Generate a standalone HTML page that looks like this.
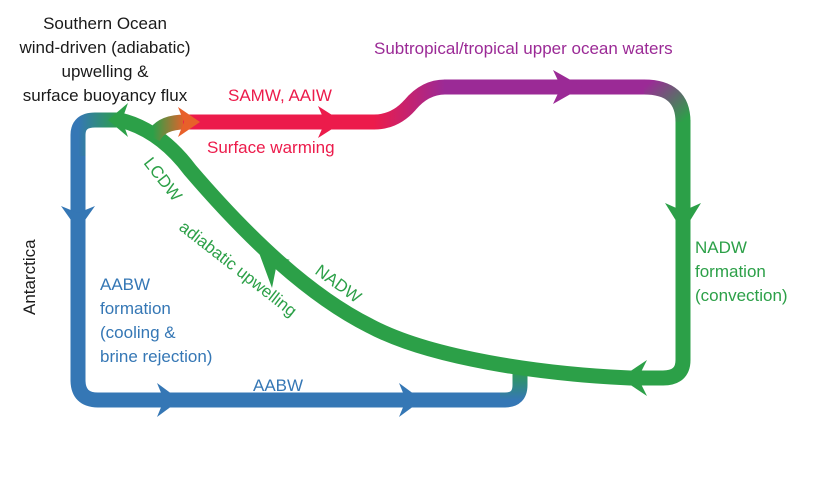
<!DOCTYPE html>
<html><head><meta charset="utf-8"><style>
html,body{margin:0;padding:0;background:#fff;}
svg{display:block;font-family:"Liberation Sans",Arial,sans-serif;}
</style></head><body>
<svg width="825" height="484" viewBox="0 0 825 484" xmlns="http://www.w3.org/2000/svg">
<defs>
<linearGradient id="gb" x1="0" y1="0" x2="1" y2="0"><stop offset="0" stop-color="#3577b5"/><stop offset="1" stop-color="#2ca048"/></linearGradient>
<linearGradient id="gr" x1="0" y1="0" x2="1" y2="0"><stop offset="0" stop-color="#2ca048"/><stop offset="1" stop-color="#e8602a"/></linearGradient>
<linearGradient id="rp" x1="0" y1="0" x2="1" y2="0"><stop offset="0" stop-color="#ec1b4b"/><stop offset="1" stop-color="#9b2a96"/></linearGradient>
<linearGradient id="pg" x1="0" y1="0" x2="1" y2="1"><stop offset="0" stop-color="#9b2a96"/><stop offset="1" stop-color="#2ca048"/></linearGradient>
<linearGradient id="bg2" x1="0" y1="1" x2="0" y2="0"><stop offset="0" stop-color="#3577b5"/><stop offset="1" stop-color="#2ca048"/></linearGradient>
</defs>
<g fill="none" stroke-width="15">
<path d="M78 155 V380 Q78 400 98 400 H505" stroke="#3577b5"/>
<path d="M500 400 H505 Q520 400 520 385 V368" stroke="url(#bg2)"/>
<path d="M78 156 V135 Q78 120 95 120 H120" stroke="url(#gb)"/>
<path d="M683 120 V360 Q683 378 663 378 H630 C540 374 430 358 370 326 C310 296 250 240 190 170 Q160 130 120 120" stroke="#2ca048"/>
<path d="M153 138 Q160 122 185 122" stroke="url(#gr)"/>
<path d="M183 122 H375" stroke="#ec1b4b"/>
<path d="M374 122 Q395 122 410 105 Q425 87 445 87" stroke="url(#rp)"/>
<path d="M444 87 H645" stroke="#9b2a96"/>
<path d="M644 87 Q683 87 683 122" stroke="url(#pg)"/>
</g>
<polygon points="180,400 157,383 164,400 157,417" fill="#3577b5"/>
<polygon points="422,400 399,383 406,400 399,417" fill="#3577b5"/>
<polygon points="78,230 61,206 78,213 95,206" fill="#3577b5"/>
<polygon points="683,232 665,203 683,211 701,203" fill="#2ca048"/>
<polygon points="620,378 647,360 638,378 647,396" fill="#2ca048"/>
<polygon points="258,250 290,260 277,263 272,288" fill="#2ca048"/>
<polygon points="108,120 128,103 122,120 128,137" fill="#2ca048"/>
<polygon points="200,122 178,107 184,122 178,137" fill="#e8602a"/>
<polygon points="343,122 318,106 325,122 318,138" fill="#ec1b4b"/>
<polygon points="583,87 553,70 561,87 553,104" fill="#9b2a96"/>
<g font-size="17" fill="#1a1a1a" text-anchor="middle">
<text x="105" y="29">Southern Ocean</text>
<text x="105" y="53">wind-driven (adiabatic)</text>
<text x="105" y="77">upwelling &amp;</text>
<text x="105" y="101">surface buoyancy flux</text>
</g>
<text x="228" y="101" font-size="17" fill="#ec1b4b">SAMW, AAIW</text>
<text x="207" y="153" font-size="17" fill="#ec1b4b">Surface warming</text>
<text x="374" y="54" font-size="17" fill="#9b2a96">Subtropical/tropical upper ocean waters</text>
<g font-size="17" fill="#2ca048">
<text x="695" y="253">NADW</text>
<text x="695" y="277">formation</text>
<text x="695" y="301">(convection)</text>
</g>
<g font-size="17" fill="#3577b5">
<text x="100" y="290">AABW</text>
<text x="100" y="314">formation</text>
<text x="100" y="338">(cooling &amp;</text>
<text x="100" y="362">brine rejection)</text>
<text x="253" y="391">AABW</text>
</g>
<text transform="translate(35,315) rotate(-90)" font-size="17" fill="#1a1a1a">Antarctica</text>
<text transform="translate(143,163) rotate(52)" font-size="17" fill="#2ca048">LCDW</text>
<text transform="translate(178,229) rotate(38)" font-size="17" fill="#2ca048">adiabatic upwelling</text>
<text transform="translate(314,273) rotate(36)" font-size="17" fill="#2ca048">NADW</text>
</svg>
</body></html>
